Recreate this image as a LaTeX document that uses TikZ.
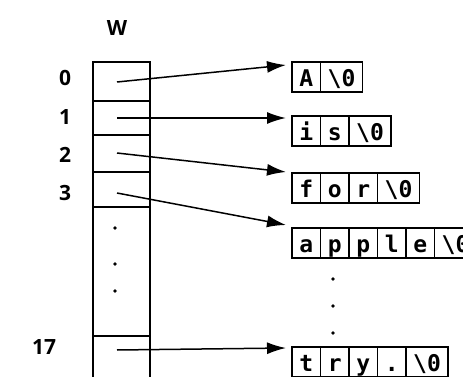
\documentclass[tikz,border=0pt]{standalone}
\usepackage{fontspec}
\setmainfont{Open Sans}
\newfontfamily\monof{DejaVu Sans Mono}
\usetikzlibrary{arrows.meta}
\begin{document}
\begin{tikzpicture}[x=1pt,y=-1pt,
  wcell/.style={draw, line width=1.1pt, minimum width=57pt, inner sep=0pt, outer sep=0pt, anchor=north west},
  sc/.style={draw, line width=1.2pt, minimum width=28.5pt, minimum height=30pt, inner sep=0pt, outer sep=0pt, text height=20pt, text depth=1pt, font=\monof\bfseries\fontsize{23}{23}\selectfont},
  zc/.style={sc, minimum width=42pt},
  lbl/.style={font=\bfseries\fontsize{21}{21}\selectfont, inner sep=0pt},
  ptr/.style={line width=1.5pt, -{Latex[length=19pt,width=12pt]}},
  bdot/.style={circle, fill, inner sep=0pt, minimum size=3.6pt}]
\useasboundingbox (0,0) rectangle (463,377);
\clip (0,0) rectangle (463,377);
% column W
\node[lbl] (W) at (117,28) {W};
\node[wcell, minimum height=39pt] (w0) at (93,62) {};
\node[wcell, minimum height=34pt] (w1) at (93,101) {};
\node[wcell, minimum height=37pt] (w2) at (93,135) {};
\node[wcell, minimum height=35pt] (w3) at (93,172) {};
\node[wcell, minimum height=129pt] (wd) at (93,207) {};
\node[wcell, minimum height=70pt] (w17) at (93,336) {};
% indices
\node[lbl] (i0) at (65,78) {0};
\node[lbl] (i1) at (65,117) {1};
\node[lbl] (i2) at (65,155) {2};
\node[lbl] (i3) at (65,193) {3};
\node[lbl] (i17) at (44,347) {17};
% dots in column
\node[bdot] (cd1) at (115,228) {};
\node[bdot] (cd2) at (115,264) {};
\node[bdot] (cd3) at (115,291) {};
% strings
\node[sc, anchor=north west] (a0) at (292,62) {A};
\node[zc, anchor=west] (a1) at (a0.east) {\textbackslash0};
\node[sc, anchor=north west] (b0) at (292,116) {i};
\node[sc, anchor=west] (b1) at (b0.east) {s};
\node[zc, anchor=west] (b2) at (b1.east) {\textbackslash0};
\node[sc, anchor=north west] (c0) at (292,173) {f};
\node[sc, anchor=west] (c1) at (c0.east) {o};
\node[sc, anchor=west] (c2) at (c1.east) {r};
\node[zc, anchor=west] (c3) at (c2.east) {\textbackslash0};
\node[sc, anchor=north west] (d0) at (292,228) {a};
\node[sc, anchor=west] (d1) at (d0.east) {p};
\node[sc, anchor=west] (d2) at (d1.east) {p};
\node[sc, anchor=west] (d3) at (d2.east) {l};
\node[sc, anchor=west] (d4) at (d3.east) {e};
\node[zc, anchor=west] (d5) at (d4.east) {\textbackslash0};
\node[sc, anchor=north west] (e0) at (292,347) {t};
\node[sc, anchor=west] (e1) at (e0.east) {r};
\node[sc, anchor=west] (e2) at (e1.east) {y};
\node[sc, anchor=west] (e3) at (e2.east) {.};
\node[zc, anchor=west] (e4) at (e3.east) {\textbackslash0};
% dots between strings
\node[bdot] (sd1) at (333,279) {};
\node[bdot] (sd2) at (333,306) {};
\node[bdot] (sd3) at (333,333) {};
% pointers
\coordinate (p0) at (117,82);
\coordinate (p1) at (117,118);
\coordinate (p2) at (117,153);
\coordinate (p3) at (117,193);
\coordinate (p17) at (117,350);
\coordinate (t0) at (286,65);
\coordinate (t1) at (286,118);
\coordinate (t2) at (286,172);
\coordinate (t3) at (286,225);
\coordinate (t17) at (286,348);
\draw[ptr] (p0) -- (t0);
\draw[ptr] (p1) -- (t1);
\draw[ptr] (p2) -- (t2);
\draw[ptr] (p3) -- (t3);
\draw[ptr] (p17) -- (t17);
\end{tikzpicture}
\end{document}
